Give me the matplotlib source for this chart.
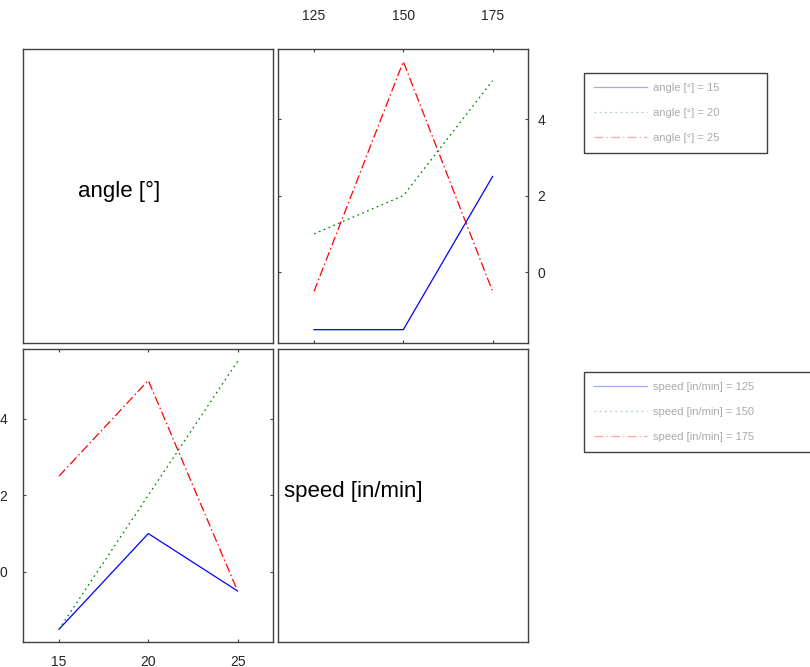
import matplotlib
matplotlib.use("Agg")
import matplotlib.pyplot as plt

plt.rcParams["font.family"] = ["Liberation Sans", "DejaVu Sans"]

# factor levels
angle_levels = [15, 20, 25]
speed_levels = [125, 150, 175]

# mean response per angle level, columns follow speed_levels
mean_angle15 = [-1.5, -1.5, 2.5]
mean_angle20 = [1.0, 2.0, 5.0]
mean_angle25 = [-0.5, 5.5, -0.5]

angle_name = "angle [°]"
speed_name = "speed [in/min]"

line_colors = ["#0000ff", "#008000", "#ff0000"]
# solid, sparse dots, long dash + dot (units of line width)
line_styles = ["-", (0, (1.4, 2.8)), (0, (7.2, 2.4, 1.2, 2.4))]

means = [mean_angle15, mean_angle20, mean_angle25]
ylim = (-1.84, 5.82)
frame_color = "#404040"
tick_color = "#262626"

W, H = 810, 667
fig = plt.figure(figsize=(W / 100, H / 100), dpi=100, facecolor="white")


def px_axes(x0, y0, x1, y1):
    return fig.add_axes([x0 / W, 1 - y1 / H, (x1 - x0) / W, (y1 - y0) / H])


ax_tl = px_axes(23.3, 49.3, 273.3, 342.7)
ax_tr = px_axes(278.3, 49.3, 528.3, 342.7)
ax_bl = px_axes(23.3, 349.0, 273.3, 642.3)
ax_br = px_axes(278.3, 349.0, 528.3, 642.3)

for ax in (ax_tl, ax_tr, ax_bl, ax_br):
    for sp in ax.spines.values():
        sp.set_color(frame_color)
        sp.set_linewidth(1.0)

# diagonal: factor names only
for ax, name, xpos in ((ax_tl, angle_name, 0.219), (ax_br, speed_name, 0.024)):
    ax.set_xticks([])
    ax.set_yticks([])
    ax.text(xpos, 0.515, name, transform=ax.transAxes, ha="left", va="center",
            fontsize=16, color="black")

# speed on x, one line per angle level
lines_tr = []
for i, a in enumerate(angle_levels):
    (ln,) = ax_tr.plot(speed_levels, means[i], color=line_colors[i],
                       ls=line_styles[i], lw=0.9,
                       label=f"{angle_name} = {a}")
    lines_tr.append(ln)
ax_tr.set_xlim(115, 185)
ax_tr.set_ylim(*ylim)
ax_tr.set_xticks(speed_levels)
ax_tr.set_yticks([0, 2, 4])
ax_tr.tick_params(direction="in", length=2.4, width=0.8, color=frame_color,
                  labelsize=10, labelcolor=tick_color,
                  top=True, bottom=True, left=True, right=True)
ax_tr.tick_params(axis="x", labeltop=True, labelbottom=False, pad=19.2)
ax_tr.tick_params(axis="y", labelright=True, labelleft=False, pad=6.8)

# angle on x, one line per speed level
lines_bl = []
for j, s in enumerate(speed_levels):
    col = [row[j] for row in means]
    (ln,) = ax_bl.plot(angle_levels, col, color=line_colors[j],
                       ls=line_styles[j], lw=0.9,
                       label=f"{speed_name} = {s}")
    lines_bl.append(ln)
ax_bl.set_xlim(13, 27)
ax_bl.set_ylim(*ylim)
ax_bl.set_xticks(angle_levels)
ax_bl.set_yticks([0, 2, 4])
ax_bl.tick_params(direction="in", length=2.4, width=0.8, color=frame_color,
                  labelsize=10, labelcolor=tick_color,
                  top=True, bottom=True, left=True, right=True)
ax_bl.tick_params(axis="x", pad=8.8)
ax_bl.tick_params(axis="y", pad=11.5)


def add_legend(handles, x0, y0, width):
    box_h = 0.1
    leg = fig.legend(handles=handles, loc="upper left",
                     bbox_to_anchor=(x0 / W, 1 - y0 / H - box_h, width / W, box_h),
                     mode="expand", borderaxespad=0, fontsize=8,
                     labelcolor="#aaaaaa", frameon=True, fancybox=False,
                     edgecolor=frame_color, framealpha=1,
                     handlelength=4.75, handletextpad=0.5,
                     borderpad=0.9, labelspacing=1.35)
    leg.get_frame().set_linewidth(1.0)
    for h in leg.legend_handles:
        h.set_alpha(0.35)
    return leg


add_legend(lines_tr, 584.3, 72.7, 182.7)
add_legend(lines_bl, 584.3, 372.3, 260)

fig.savefig("out.png", dpi=100, facecolor="white")
